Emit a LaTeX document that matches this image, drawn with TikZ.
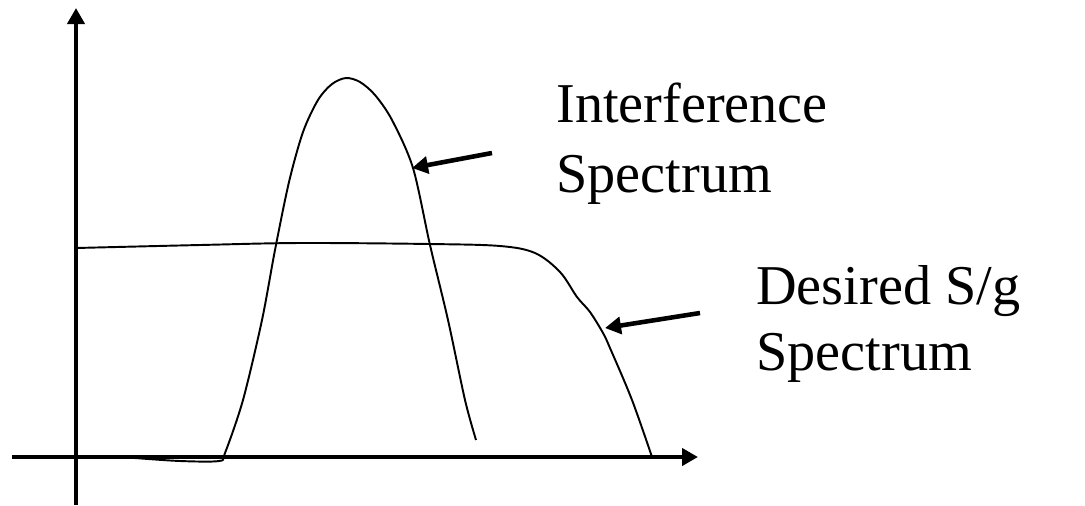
\documentclass[tikz,border=0pt]{standalone}
\usepackage{fontspec}
\setmainfont{Liberation Serif}
\usetikzlibrary{arrows.meta, positioning}

\tikzset{
  axis/.style={line width=2.5pt, -{Triangle[length=0.32cm, width=0.34cm]}},
  spec/.style={line width=1.1pt},
  pointer/.style={line width=2.6pt, -{Triangle[length=0.32cm, width=0.34cm]}},
  lbl/.style={inner sep=0pt, anchor=base west, font=\fontsize{32}{38}\selectfont}
}

\begin{document}
\begin{tikzpicture}[x=0.02cm, y=-0.02cm]
            \useasboundingbox (0,0) rectangle (1085,505);

            % axes
            \coordinate (O1) at (76,505);
            \coordinate (Y) at (76,8);
            \coordinate (O2) at (12,457);
            \coordinate (X) at (698,457);
            \draw[axis] (O1) -- (Y);
            \draw[axis] (O2) -- (X);

            % interference
            \draw[spec] plot[smooth, tension=0.5] coordinates {(135,458) (180,461) (219,461) (225,453)
                (243,400) (262,320) (275,250) (289,182) (303,132) (318,100) (332,84) (346,78)
                (360,82) (375,95) (392,120) (413,168) (430,245) (448,320) (465,400) (476,440)};

            % desired signal
            \draw[spec] plot[smooth, tension=0.55] coordinates {(76,248) (200,245) (300,243) (430,244)
                (500,246) (535,253) (560,272) (577,297) (590,312) (603,333) (610,348) (632,400) (652,457)};

            % labels
            \node (I1) [lbl] at (556,122) {Interference};
            \node (I2) [lbl] at (556,192) {Spectrum};
            \node (D1) [lbl] at (756,304) {Desired S/g};
            \node (D2) [lbl] at (756,370) {Spectrum};

            % pointers
            \coordinate (pi) at (492,153);
            \coordinate (ti) at (412,168);
            \coordinate (pd) at (700,313);
            \coordinate (td) at (605,328);
            \draw[pointer] (pi) -- (ti);
            \draw[pointer] (pd) -- (td);

\end{tikzpicture}
\end{document}
